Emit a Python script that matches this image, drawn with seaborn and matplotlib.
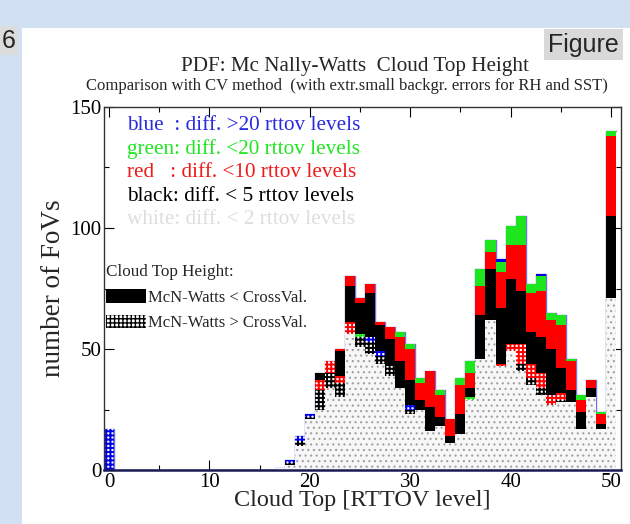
import numpy as np
import pandas as pd
import matplotlib
matplotlib.use("Agg")
import matplotlib.pyplot as plt
from matplotlib.patches import Rectangle, Patch
from matplotlib.ticker import MultipleLocator
import seaborn as sns

# ---------------- data (counts per RTTOV level 0..50) ----------------
levels = list(range(51))
white = [0, 0, 0, 0, 0, 0, 0, 0, 0, 0,
         0, 0, 0, 0, 0, 0, 0, 1, 2, 10,
         21, 25, 34, 30, 56, 51, 48, 44, 39, 34,
         23, 25, 16, 18, 11, 15, 29, 46, 62, 43,
         49, 41, 35, 31, 27, 28, 28, 17, 30, 17,
         71]
chk_black = [0, 0, 0, 0, 0, 0, 0, 0, 0, 0,
             0, 0, 0, 0, 0, 0, 0, 0, 1, 2,
             1, 8, 6, 6, 0, 4, 5, 3, 4, 0,
             2, 0, 0, 0, 0, 0, 0, 0, 0, 0,
             0, 3, 3, 3, 0, 1, 0, 0, 0, 0,
             0]
chk_red = [0, 0, 0, 0, 0, 0, 0, 0, 0, 0,
           0, 0, 0, 0, 0, 0, 0, 0, 0, 0,
           0, 4, 5, 3, 5, 0, 0, 0, 0, 0,
           0, 0, 0, 0, 0, 0, 0, 0, 0, 1,
           3, 8, 6, 6, 4, 3, 0, 0, 0, 0,
           0]
chk_green = [0, 0, 0, 0, 0, 0, 0, 0, 0, 0,
             0, 0, 0, 0, 0, 0, 0, 0, 0, 0,
             0, 0, 0, 0, 0, 1, 0, 0, 0, 0,
             0, 0, 0, 0, 0, 0, 1, 0, 0, 0,
             0, 0, 0, 0, 0, 0, 0, 0, 0, 0,
             0]
chk_blue = [17, 0, 0, 0, 0, 0, 0, 0, 0, 0,
            0, 0, 0, 0, 0, 0, 0, 0, 1, 2,
            1, 0, 0, 0, 0, 0, 2, 2, 0, 0,
            2, 0, 0, 0, 0, 0, 0, 0, 0, 0,
            0, 0, 0, 0, 0, 0, 0, 0, 0, 0,
            0]
sol_black = [0, 0, 0, 0, 0, 0, 0, 0, 0, 0,
             0, 0, 0, 0, 0, 0, 0, 0, 0, 0,
             0, 3, 0, 10, 15, 13, 18, 11, 11, 11,
             10, 4, 10, 4, 3, 8, 4, 18, 21, 23,
             27, 22, 13, 15, 19, 10, 5, 7, 4, 2,
             34]
sol_red = [0, 0, 0, 0, 0, 0, 0, 0, 0, 0,
           0, 0, 0, 0, 0, 0, 0, 0, 0, 0,
           0, 0, 0, 1, 4, 2, 4, 1, 5, 10,
           13, 7, 15, 9, 7, 12, 6, 12, 7, 15,
           14, 19, 16, 19, 12, 18, 12, 5, 3, 4,
           33]
sol_green = [0, 0, 0, 0, 0, 0, 0, 0, 0, 0,
             0, 0, 0, 0, 0, 0, 0, 0, 0, 0,
             0, 0, 0, 0, 0, 0, 0, 0, 0, 2,
             2, 2, 0, 2, 0, 3, 5, 7, 5, 4,
             8, 12, 4, 6, 3, 4, 1, 2, 0, 1,
             2]
sol_blue = [0, 0, 0, 0, 0, 0, 0, 0, 0, 0,
            0, 0, 0, 0, 0, 0, 0, 0, 0, 0,
            0, 0, 0, 0, 0, 0, 0, 0, 0, 0,
            0, 0, 0, 0, 0, 0, 0, 0, 0, 1,
            0, 0, 0, 1, 0, 0, 0, 0, 0, 0,
            0]

layer_names = ["white", "chk_black", "chk_red", "chk_green", "chk_blue",
               "sol_black", "sol_red", "sol_green", "sol_blue"]
layer_values = [white, chk_black, chk_red, chk_green, chk_blue,
                sol_black, sol_red, sol_green, sol_blue]

BLUE, GREEN, RED = "#0000e6", "#1ee61e", "#ff0000"
# face, hatch, hatch colour, hatch linewidth
styles = {
    "white":     ("#f7f7f7", "...", "#a0a0a0", 0.8),
    "chk_black": ("white", "++++", "black", 1.4),
    "chk_red":   ("white", "++++", RED, 1.4),
    "chk_green": ("white", "++++", GREEN, 1.4),
    "chk_blue":  ("white", "++++", BLUE, 1.4),
    "sol_black": ("black", None, "black", 1.0),
    "sol_red":   (RED, None, RED, 1.0),
    "sol_green": (GREEN, None, GREEN, 1.0),
    "sol_blue":  (BLUE, None, BLUE, 1.0),
}

df = pd.DataFrame({"level": levels})
for n, v in zip(layer_names, layer_values):
    df[n] = v
cum = df[layer_names].cumsum(axis=1)

# ---------------- figure ----------------
sns.set_theme(style="white")
plt.rcParams["font.family"] = ["Liberation Serif", "DejaVu Serif"]

fig = plt.figure(figsize=(6.3, 5.24), dpi=100)
fig.patch.set_facecolor("#d2e0f4")
fig.add_artist(Rectangle((22 / 630, 0), 1, 1 - 28 / 524, transform=fig.transFigure,
                         fc="white", ec="none", zorder=-10))

ax = fig.add_axes([104 / 630, 1 - 470 / 524, 517 / 630, 363 / 524])
ax.set_facecolor("white")

# outline of total histogram
sns.histplot(x=df["level"], weights=cum["sol_blue"], discrete=True, element="step",
             fill=False, color="#7070e0", linewidth=1.0, ax=ax, zorder=1)

# painter-style stacking: draw cumulative sums from top layer down
for n in reversed(layer_names):
    face, hatch, hc, hlw = styles[n]
    before = len(ax.patches)
    with plt.rc_context({"hatch.linewidth": hlw}):
        sns.histplot(x=df["level"], weights=cum[n], discrete=True, ax=ax,
                     color=face, alpha=1, linewidth=0, zorder=2)
        for p in ax.patches[before:]:
            p.set_facecolor(face)
            p.set_edgecolor(hc)
            p.set_linewidth(0)
            if hatch:
                p.set_hatch(hatch)
                if hasattr(p, "set_hatch_linewidth"):
                    p.set_hatch_linewidth(hlw)

ax.set_xlim(-0.5, 51)
ax.set_ylim(0, 150)
ax.xaxis.set_major_locator(MultipleLocator(10))
ax.xaxis.set_minor_locator(MultipleLocator(5))
ax.yaxis.set_major_locator(MultipleLocator(50))
ax.yaxis.set_minor_locator(MultipleLocator(25))
ax.tick_params(which="both", direction="in", top=True, right=True,
               bottom=True, left=True, colors="black", labelsize=15)
ax.tick_params(which="major", length=7, width=0.8, pad=2)
ax.tick_params(which="minor", length=3.5, width=0.8)
for s in ax.spines.values():
    s.set_color("#333333")
    s.set_linewidth(1.0)
ax.spines["bottom"].set_color("#1a1a55")
ax.spines["bottom"].set_linewidth(1.8)

ax.set_xlabel("Cloud Top [RTTOV level]", fontsize=17.5, labelpad=-1)
ax.set_ylabel("number of FoVs", fontsize=19.5, labelpad=3)

# colour key text
key = [("blue  : diff. >20 rttov levels", "#2a2ae0"),
       ("green: diff. <20 rttov levels", "#22e622"),
       ("red   : diff. <10 rttov levels", "#f01a1a"),
       ("black: diff. < 5 rttov levels", "black"),
       ("white: diff. < 2 rttov levels", "#dedede")]
for i, (t, c) in enumerate(key):
    ax.text(0.045, 0.948 - i * 0.0648, t, color=c, fontsize=15.3,
            transform=ax.transAxes, ha="left", va="center")

handles = [Patch(facecolor="black", edgecolor="black", linewidth=0),
           Patch(facecolor="white", edgecolor="black", hatch="++++", linewidth=0)]
leg = ax.legend(handles, ["McN-Watts < CrossVal.", "McN-Watts > CrossVal."],
                title="Cloud Top Height:", loc="upper left",
                bbox_to_anchor=(0.004, 0.567), frameon=False, fontsize=12,
                title_fontsize=12.3, handlelength=2.4, handleheight=0.85,
                handletextpad=0.1, labelspacing=0.55, borderpad=0,
                borderaxespad=0, alignment="left")

# titles
fig.text(0.563, 0.874, "PDF: Mc Nally-Watts  Cloud Top Height", fontsize=15.2,
         ha="center", va="center")
fig.text(86 / 630, 0.836,
         "Comparison with CV method  (with extr.small backgr. errors for RH and SST)",
         fontsize=12.0, ha="left", va="center")

# slide decorations
fig.text(0.870, 0.915, "Figure", fontsize=18, family=["Liberation Sans"],
         ha="left", va="center",
         bbox=dict(boxstyle="square,pad=0.15", fc="#d9d9d9", ec="none"))
fig.text(0.002, 0.922, "6", fontsize=18, family=["Liberation Sans"],
         ha="left", va="center",
         bbox=dict(boxstyle="square,pad=0.1", fc="#dcdcdc", ec="none"))

fig.savefig("out.png", dpi=100, facecolor=fig.get_facecolor())
